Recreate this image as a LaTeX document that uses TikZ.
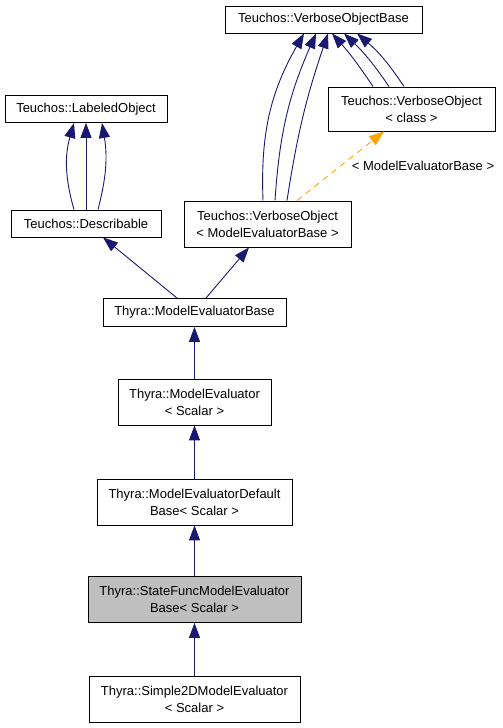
\documentclass[tikz,border=0pt]{standalone}
\usepackage{fontspec}
\setmainfont{Liberation Sans}
\usetikzlibrary{arrows.meta}
\definecolor{edgeblue}{HTML}{191970}
\definecolor{tmplorange}{HTML}{FFA500}
\definecolor{curgray}{HTML}{BFBFBF}
\tikzset{
  cls/.style={draw=black, line width=0.9pt, inner sep=0pt, align=center, font=\fontsize{13}{17}\selectfont},
  onerow/.style={cls, minimum height=27pt},
  tworow/.style={cls, minimum height=46pt},
  lbl/.style={inner sep=0pt, font=\fontsize{13}{17}\selectfont},
  inherit/.style={edgeblue, line width=0.9pt, -{Triangle[length=15pt,width=11pt]}},
  tmpl/.style={tmplorange, line width=0.9pt, dash pattern=on 6pt off 5pt, -{Triangle[length=15pt,width=11pt]}}
}
\begin{document}
\begin{tikzpicture}[x=1pt, y=1pt]
    \useasboundingbox (0,0) rectangle (503,728);
    \draw (323.5, 708.5) node[onerow, minimum width=197pt] (vob) {Teuchos::VerboseObjectBase};
    \draw (86, 619) node[onerow, minimum width=162pt] (lab) {Teuchos::LabeledObject};
    \draw (411.5, 619) node[tworow, minimum width=167pt, minimum height=44pt] (voc) {Teuchos::VerboseObject\\< class >};
    \draw (86, 504.5) node[onerow, minimum width=150pt] (des) {Teuchos::Describable};
    \draw (267.5, 504) node[tworow, minimum width=167pt] (vom) {Teuchos::VerboseObject\\< ModelEvaluatorBase >};
    \draw (194.5, 415.5) node[onerow, minimum width=183pt, minimum height=28pt] (meb) {Thyra::ModelEvaluatorBase};
    \draw (194.5, 326) node[tworow, minimum width=153pt] (me) {Thyra::ModelEvaluator\\< Scalar >};
    \draw (194.5, 226) node[tworow, minimum width=195pt] (medb) {Thyra::ModelEvaluatorDefault\\Base< Scalar >};
    \draw (194.5, 128.5) node[tworow, minimum width=213pt, fill=curgray] (sfmeb) {Thyra::StateFuncModelEvaluator\\Base< Scalar >};
    \draw (194.5, 29) node[tworow, minimum width=211pt] (s2d) {Thyra::Simple2DModelEvaluator\\< Scalar >};
    \draw (423, 562) node[lbl] (tlabel) {< ModelEvaluatorBase >};
    \draw[inherit] ([xshift=-12pt]des.north) to[bend left=16] ([xshift=-12pt]lab.south);
    \draw[inherit] (des.north) -- (lab.south);
    \draw[inherit] ([xshift=12pt]des.north) to[bend right=12] ([xshift=16pt]lab.south);
    \draw[inherit] ([xshift=-4.5pt]vom.north) to[bend left=16] ([xshift=-19.5pt]vob.south);
    \draw[inherit] ([xshift=7.5pt]vom.north) to[bend left=10] ([xshift=-7.5pt]vob.south);
    \draw[inherit] ([xshift=19.5pt]vom.north) to[bend left=5] ([xshift=4.5pt]vob.south);
    \draw[inherit] ([xshift=-38.5pt]voc.north) to[bend right=4] ([xshift=8.5pt]vob.south);
    \draw[inherit] ([xshift=-22.5pt]voc.north) to[bend right=6] ([xshift=20.5pt]vob.south);
    \draw[inherit] ([xshift=-7.5pt]voc.north) to[bend right=8] ([xshift=33.5pt]vob.south);
    \draw[tmpl] ([xshift=29.5pt]vom.north) -- ([xshift=-27.5pt]voc.south);
    \draw[inherit] ([xshift=-17.5pt]meb.north) -- ([xshift=17pt]des.south);
    \draw[inherit] ([xshift=11.5pt]meb.north) -- ([xshift=-18.5pt]vom.south);
    \draw[inherit] (me) -- (meb);
    \draw[inherit] (medb) -- (me);
    \draw[inherit] (sfmeb) -- (medb);
    \draw[inherit] (s2d) -- (sfmeb);
\end{tikzpicture}
\end{document}
